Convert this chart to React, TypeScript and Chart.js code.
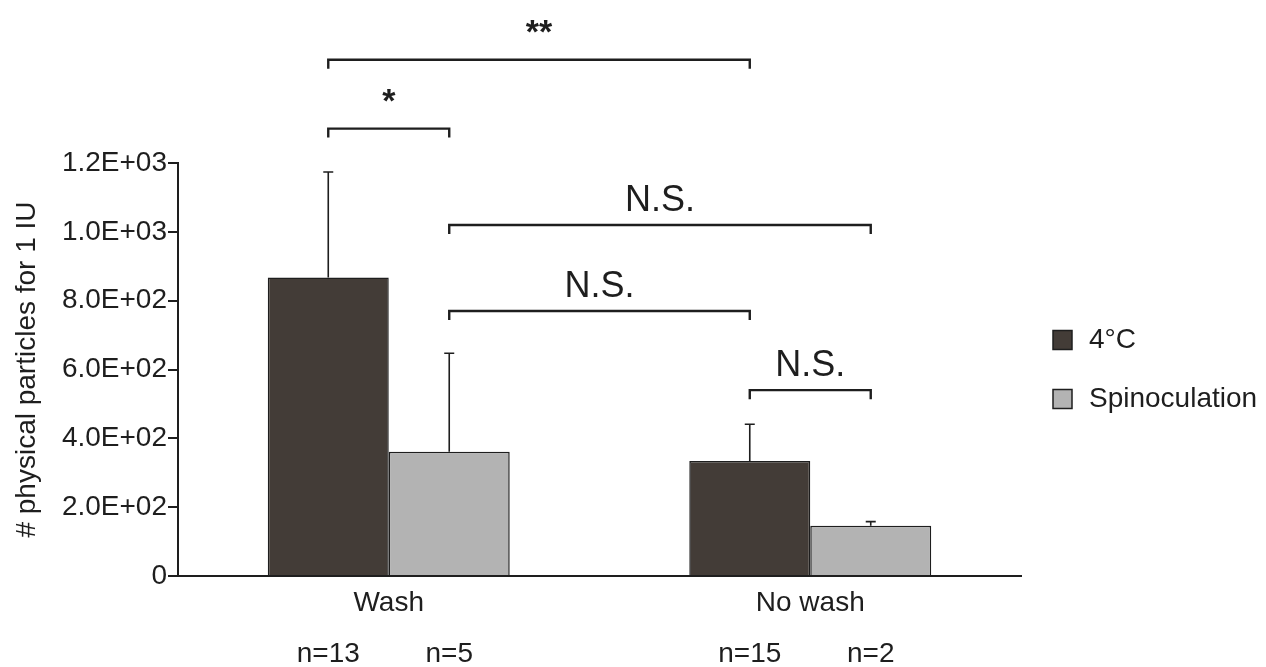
import React, { useEffect, useRef } from "react";
import { Chart, registerables } from "chart.js";

Chart.register(...registerables);

const categories = ["Wash", "No wash"];
const seriesNames = ["4°C", "Spinoculation"];
const meanCold = [867, 334];
const sdCold = [307, 107];
const meanSpin = [361, 146];
const sdSpin = [286, 12];
const nCold = ["n=13", "n=15"];
const nSpin = ["n=5", "n=2"];
const yTickLabels = ["0", "2.0E+02", "4.0E+02", "6.0E+02", "8.0E+02", "1.0E+03", "1.2E+03"];
// significance brackets: [datasetIndex, categoryIndex] endpoints, level in data units
const bracketFrom = [[0, 0], [0, 0], [1, 0], [1, 0], [0, 1]];
const bracketTo = [[0, 1], [1, 0], [1, 1], [0, 1], [1, 1]];
const bracketLevel = [1500, 1300, 1020, 770, 540];
const bracketText = ["**", "*", "N.S.", "N.S.", "N.S."];

const FONT = '"Liberation Sans", Arial, sans-serif';
const INK = "#1e1e1e";
const COLORS = ["#433c37", "#b3b3b3"];

const overlayPlugin = {
  id: "overlay",
  afterDatasetsDraw(chart: any) {
    const ctx = chart.ctx;
    const y = chart.scales.y;
    const sds = [sdCold, sdSpin];
    const means = [meanCold, meanSpin];
    const ns = [nCold, nSpin];
    ctx.save();
    // error bars
    ctx.strokeStyle = INK;
    ctx.lineWidth = 1.6;
    for (let d = 0; d < 2; d++) {
      const meta = chart.getDatasetMeta(d);
      meta.data.forEach((el: any, i: number) => {
        const top = y.getPixelForValue(means[d][i] + sds[d][i]);
        ctx.beginPath();
        ctx.moveTo(el.x, el.y);
        ctx.lineTo(el.x, top);
        ctx.moveTo(el.x - 5, top);
        ctx.lineTo(el.x + 5, top);
        ctx.stroke();
      });
    }
    // n labels
    ctx.fillStyle = INK;
    ctx.font = `28px ${FONT}`;
    ctx.textAlign = "center";
    ctx.textBaseline = "alphabetic";
    for (let d = 0; d < 2; d++) {
      const meta = chart.getDatasetMeta(d);
      meta.data.forEach((el: any, i: number) => {
        ctx.fillText(ns[d][i], el.x, 662);
      });
    }
    // brackets
    ctx.lineWidth = 2.4;
    for (let b = 0; b < bracketLevel.length; b++) {
      const a = chart.getDatasetMeta(bracketFrom[b][0]).data[bracketFrom[b][1]];
      const c = chart.getDatasetMeta(bracketTo[b][0]).data[bracketTo[b][1]];
      const py = y.getPixelForValue(bracketLevel[b]);
      ctx.beginPath();
      ctx.moveTo(a.x, py + 9);
      ctx.lineTo(a.x, py);
      ctx.lineTo(c.x, py);
      ctx.lineTo(c.x, py + 9);
      ctx.stroke();
      const star = bracketText[b].startsWith("*");
      ctx.font = star ? `bold 34px ${FONT}` : `36px ${FONT}`;
      ctx.fillText(bracketText[b], (a.x + c.x) / 2, star ? py - 17 : py - 14);
    }
    // legend
    ctx.textAlign = "left";
    ctx.textBaseline = "middle";
    ctx.font = `28px ${FONT}`;
    chart.data.datasets.forEach((ds: any, i: number) => {
      const cy = 340 + i * 59;
      ctx.fillStyle = ds.backgroundColor;
      ctx.fillRect(1053, cy - 9.5, 19, 19);
      ctx.lineWidth = 1.5;
      ctx.strokeStyle = INK;
      ctx.strokeRect(1053, cy - 9.5, 19, 19);
      ctx.fillStyle = INK;
      ctx.fillText(ds.label, 1089, cy);
    });
    ctx.restore();
  },
};

export default function App() {
  const ref = useRef<HTMLCanvasElement>(null);
  useEffect(() => {
    if (!ref.current) return;
    const chart = new Chart(ref.current, {
      type: "bar",
      data: {
        labels: categories,
        datasets: [
          {
            label: seriesNames[0],
            data: meanCold,
            backgroundColor: COLORS[0],
            borderColor: INK,
            borderWidth: 1.5,
            barPercentage: 1,
            categoryPercentage: 0.574,
          },
          {
            label: seriesNames[1],
            data: meanSpin,
            backgroundColor: COLORS[1],
            borderColor: INK,
            borderWidth: 1.5,
            barPercentage: 1,
            categoryPercentage: 0.574,
          },
        ],
      },
      options: {
        animation: false,
        responsive: true,
        maintainAspectRatio: false,
        layout: { padding: { top: 163, right: 245, left: 0, bottom: 0 } },
        plugins: { legend: { display: false }, tooltip: { enabled: false } },
        scales: {
          x: {
            grid: { display: false, drawTicks: false },
            border: { display: true, color: INK, width: 2 },
            ticks: { color: INK, font: { family: FONT, size: 28 }, padding: 10 },
            afterFit: (s: any) => {
              s.height = 91;
            },
          },
          y: {
            min: 0,
            max: 1200,
            ticks: {
              stepSize: 200,
              color: INK,
              padding: 1,
              font: { family: FONT, size: 28 },
              callback: (_v: any, i: number) => yTickLabels[i],
            },
            grid: { display: true, drawOnChartArea: false, drawTicks: true, tickLength: 10, color: INK, lineWidth: 2 },
            border: { display: true, color: INK, width: 2 },
            title: {
              display: true,
              text: "# physical particles for 1 IU",
              color: INK,
              font: { family: FONT, size: 28 },
              padding: { top: 10, bottom: 0 },
            },
            afterFit: (s: any) => {
              s.width = 178;
            },
          },
        },
      },
      plugins: [overlayPlugin],
    });
    return () => chart.destroy();
  }, []);
  return (
    <div style={{ position: "fixed", left: 0, top: 0, width: 1266, height: 667, background: "#fff" }}>
      <canvas ref={ref} />
    </div>
  );
}
